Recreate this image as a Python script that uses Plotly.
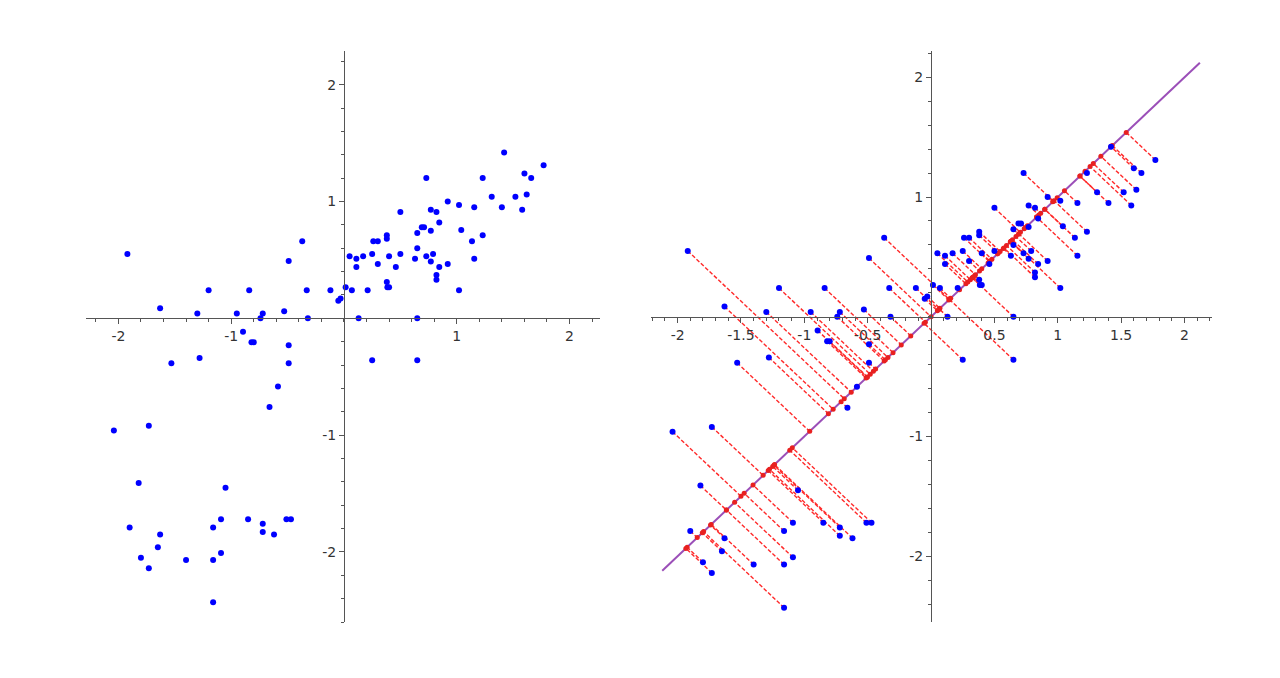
import math
import plotly.graph_objects as go

# data points (same set in both panels)
x_vals = [-1.92, -1.63, -1.30, -1.20, -0.95, -0.84, -0.72, -0.74, -0.53, -0.49,
          -0.37, -0.33, -0.32, -0.12, -0.05, -0.03, 0.015,
          0.05, 0.07, 0.11, 0.11, 0.13, 0.17, 0.21, 0.25, 0.26, 0.30,
          0.30, 0.38, 0.38, 0.38, 0.385, 0.40, 0.40, 0.46, 0.50, 0.50,
          0.65, 0.63, 0.65, 0.65, 0.69, 0.71, 0.73, 0.73, 0.77, 0.77,
          0.77, 0.79, 0.82, 0.845, 0.82, 0.82, 0.845, 0.92, 0.92, 1.02,
          1.02, 1.04, 1.135, 1.155, 1.155, 1.23, 1.23, 1.31, 1.40, 1.42,
          1.52, 1.58, 1.60, 1.62, 1.66, 1.77,
          0.25, 0.65,
          -0.895, -0.82, -0.80, -0.49, -0.49, -1.53, -1.28, -0.585, -0.66, -2.04,
          -1.73, -1.82, -1.05, -1.90, -1.63, -1.65, -1.80, -1.73, -1.40, -1.16,
          -1.09, -1.16, -1.09, -1.16, -0.85, -0.72, -0.72, -0.62, -0.51, -0.47]
y_vals = [0.55, 0.085, 0.04, 0.24, 0.04, 0.24, 0.04, 0.0, 0.06, 0.49,
          0.66, 0.24, 0.0, 0.24, 0.15, 0.17, 0.265,
          0.53, 0.24, 0.51, 0.44, 0.0, 0.53, 0.24, 0.55, 0.66, 0.66,
          0.465, 0.71, 0.68, 0.31, 0.265, 0.265, 0.53, 0.44, 0.91, 0.55,
          0.0, 0.51, 0.60, 0.73, 0.78, 0.78, 1.20, 0.53, 0.93, 0.75,
          0.485, 0.55, 0.91, 0.82, 0.37, 0.33, 0.44, 0.465, 1.0, 0.97,
          0.24, 0.755, 0.66, 0.95, 0.51, 1.20, 0.71, 1.04, 0.95, 1.42,
          1.04, 0.93, 1.24, 1.06, 1.20, 1.31,
          -0.36, -0.36,
          -0.115, -0.205, -0.205, -0.23, -0.385, -0.385, -0.34, -0.585, -0.76, -0.96,
          -0.92, -1.41, -1.45, -1.79, -1.85, -1.96, -2.05, -2.14, -2.07, -1.79,
          -1.72, -2.07, -2.01, -2.43, -1.72, -1.76, -1.83, -1.85, -1.72, -1.72]

left_ticks_x = [-2, -1, 1, 2]
left_ticks_y = [-2, -1, 1, 2]
right_ticks_x = [-2, -1.5, -1, -0.5, 0.5, 1, 1.5, 2]
right_ticks_y = [-2, -1, 1, 2]

# direction of the projection line (unit vector) and its extent
direction = (1 / math.sqrt(2), 1 / math.sqrt(2))
line_t = [-3, 3]

W, H = 1280, 678
OFF = 8  # page margin of the browser body
left_xr = [-2.287, 2.27]
left_yr = [-2.60, 2.288]
right_xr = [-2.21, 2.217]
right_yr = [-2.55, 2.22]
left_xdom = [(86 - OFF) / W, (600 - OFF) / W]
right_xdom = [(651 - OFF) / W, (1212 - OFF) / W]
ydom = [1 - (622 - OFF) / H, 1 - (51 - OFF) / H]


def zero_pos(r, dom):
    return dom[0] + (0 - r[0]) / (r[1] - r[0]) * (dom[1] - dom[0])


def label(v):
    return ("%g" % v)


# projections onto the line
px, py, seg_x, seg_y = [], [], [], []
for x, y in zip(x_vals, y_vals):
    t = x * direction[0] + y * direction[1]
    qx, qy = t * direction[0], t * direction[1]
    px.append(qx)
    py.append(qy)
    seg_x += [x, qx, None]
    seg_y += [y, qy, None]

fig = go.Figure()

fig.add_trace(go.Scatter(x=x_vals, y=y_vals, mode="markers", xaxis="x", yaxis="y",
                         marker=dict(color="#0000ff", size=6)))

fig.add_trace(go.Scatter(x=[t * direction[0] for t in line_t],
                         y=[t * direction[1] for t in line_t],
                         mode="lines", xaxis="x2", yaxis="y2",
                         line=dict(color="#9b4fb8", width=2)))
fig.add_trace(go.Scatter(x=seg_x, y=seg_y, mode="lines", xaxis="x2", yaxis="y2",
                         line=dict(color="#ff2a2a", width=1.4, dash="4px,2px")))
fig.add_trace(go.Scatter(x=px, y=py, mode="markers", xaxis="x2", yaxis="y2",
                         marker=dict(color="#e82020", size=5)))
fig.add_trace(go.Scatter(x=x_vals, y=y_vals, mode="markers", xaxis="x2", yaxis="y2",
                         marker=dict(color="#0000ff", size=6)))

axis_col = "#555555"
tick_font = dict(family="DejaVu Sans", size=14, color="#333333")


def make_axis(dom, rng, pos, ticks, minor_step):
    return dict(domain=dom, range=rng, anchor="free", position=pos,
                showgrid=False, zeroline=False, showline=True,
                linecolor=axis_col, linewidth=1,
                ticks="outside", ticklen=5, tickcolor=axis_col, tickwidth=1,
                tickmode="array", tickvals=ticks, ticktext=[label(v) for v in ticks],
                tickfont=tick_font,
                minor=dict(tickmode="linear", tick0=0, dtick=minor_step,
                           ticks="outside", ticklen=3, tickcolor=axis_col,
                           showgrid=False))


fig.update_layout(
    width=W, height=H,
    margin=dict(l=0, r=0, t=0, b=0),
    paper_bgcolor="white", plot_bgcolor="white",
    showlegend=False,
    xaxis=make_axis(left_xdom, left_xr, zero_pos(left_yr, ydom), left_ticks_x, 0.2),
    yaxis=make_axis(ydom, left_yr, zero_pos(left_xr, left_xdom), left_ticks_y, 0.2),
    xaxis2=make_axis(right_xdom, right_xr, zero_pos(right_yr, ydom), right_ticks_x, 0.1),
    yaxis2=make_axis(ydom, right_yr, zero_pos(right_xr, right_xdom), right_ticks_y, 0.2),
)

fig.write_html("out.html")
